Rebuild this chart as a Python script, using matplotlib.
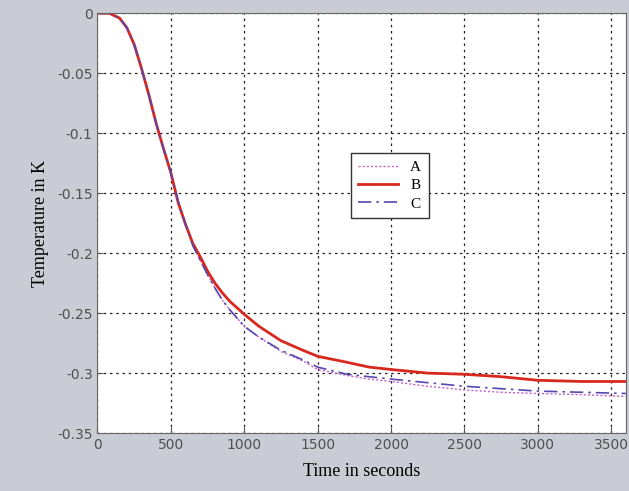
import matplotlib.pyplot as plt
import numpy as np

# time axis (s)
t = [0, 80, 150, 200, 250, 300, 350, 400, 450, 500, 550, 600, 650, 700, 750,
     800, 850, 900, 1000, 1100, 1250, 1400, 1500, 1700, 1850, 2000, 2250, 2500,
     2750, 3000, 3300, 3600]

temp_b = [0, 0, -0.004, -0.012, -0.026, -0.046, -0.068, -0.092, -0.113, -0.133,
          -0.158, -0.176, -0.192, -0.203, -0.215, -0.225, -0.233, -0.240, -0.251,
          -0.261, -0.273, -0.281, -0.286, -0.291, -0.295, -0.297, -0.300, -0.301,
          -0.303, -0.306, -0.307, -0.307]
temp_c = [0, 0, -0.004, -0.012, -0.026, -0.046, -0.068, -0.092, -0.113, -0.133,
          -0.157, -0.176, -0.194, -0.206, -0.218, -0.229, -0.239, -0.247, -0.261,
          -0.270, -0.281, -0.289, -0.295, -0.301, -0.303, -0.305, -0.308, -0.311,
          -0.313, -0.315, -0.316, -0.317]
temp_a = [0, 0, -0.004, -0.012, -0.026, -0.046, -0.068, -0.092, -0.113, -0.133,
          -0.157, -0.176, -0.194, -0.206, -0.218, -0.229, -0.239, -0.247, -0.261,
          -0.270, -0.282, -0.290, -0.297, -0.302, -0.305, -0.307, -0.311, -0.314,
          -0.316, -0.317, -0.318, -0.3195]

xticks = [0, 500, 1000, 1500, 2000, 2500, 3000, 3500]
yticks = [0, -0.05, -0.1, -0.15, -0.2, -0.25, -0.3, -0.35]
ytick_labels = ['0', '-0.05', '-0.1', '-0.15', '-0.2', '-0.25', '-0.3', '-0.35']

bg = '#c9ccd4'
fig = plt.figure(figsize=(6.29, 4.91), dpi=100, facecolor=bg)
ax = fig.add_axes([0.155, 0.118, 0.84, 0.855])
ax.set_facecolor('white')

ax.plot(t, temp_a, color='#c060c8', linestyle=(0, (1.5, 1.5)), linewidth=1.0, label='A')
ax.plot(t, temp_b, color='#d8281e', linestyle='-', linewidth=2.0, label='B')
ax.plot(t, temp_c, color='#5548b0', linestyle=(0, (8, 3, 1.5, 3)), linewidth=1.2, label='C')

ax.set_xlim(0, 3600)
ax.set_ylim(-0.35, 0)
ax.set_xticks(xticks)
ax.set_yticks(yticks)
ax.set_yticklabels(ytick_labels)
ax.grid(True, color='#222222', linestyle=(0, (2, 3)), linewidth=0.9)
ax.tick_params(direction='in', length=4, labelsize=10, labelcolor='#505050',
               color='#555555')
for s in ax.spines.values():
    s.set_color('#666666')

ax.set_xlabel('Time in seconds', family='Liberation Serif', fontsize=13, labelpad=8)
ax.set_ylabel('Temperature in K', family='Liberation Serif', fontsize=13, labelpad=6)

leg = ax.legend(loc='center', bbox_to_anchor=(0.553, 0.59), fancybox=False,
                framealpha=1, edgecolor='#333333', handlelength=2.6,
                prop={'family': 'Liberation Serif', 'size': 11},
                borderpad=0.5, labelspacing=0.3)
leg.get_frame().set_linewidth(1.0)

fig.savefig('out.png', dpi=100, facecolor=bg)
